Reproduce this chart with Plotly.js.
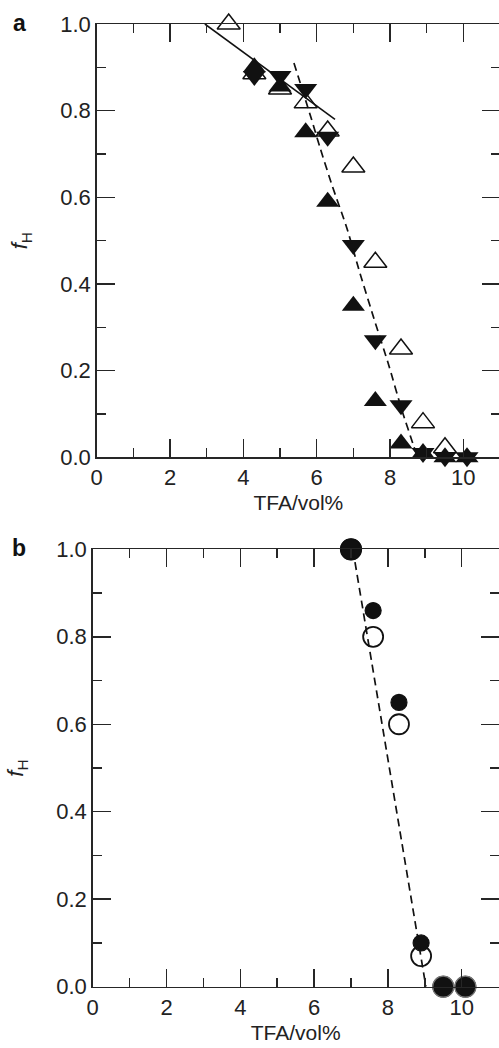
<!DOCTYPE html>
<html><head><meta charset="utf-8">
<script src="https://cdn.plot.ly/plotly-3.0.1.min.js"></script>
<style>html,body{margin:0;padding:0;overflow:hidden;background:#fff}#chart{width:500px;height:1048px}</style>
</head><body><div id="chart"></div>
<script>
// ---- Panel a data ----
const tfaOpenA = [3.6, 4.3, 5.0, 5.7, 6.3, 7.0, 7.6, 8.3, 8.9, 9.5];
const openTriY = [1.0, 0.885, 0.85, 0.818, 0.753, 0.67, 0.45, 0.25, 0.08, 0.022];
const tfaFilledA = [4.3, 5.0, 5.7, 6.3, 7.0, 7.6, 8.3, 8.9, 9.5, 10.1];
const filledUpY = [0.90, 0.856, 0.75, 0.59, 0.35, 0.13, 0.032, 0.01, 0.0, 0.0];
const filledDownY = [0.88, 0.88, 0.85, 0.74, 0.49, 0.27, 0.12, 0.01, 0.0, 0.0];
const solidFitX = [2.95, 6.5];
const solidFitY = [1.0, 0.78];
const dashFitAX = [5.38, 5.86, 6.09, 6.43, 6.82, 7.18, 7.6, 7.95, 8.32, 8.65, 8.75];
const dashFitAY = [0.91, 0.78, 0.715, 0.625, 0.53, 0.425, 0.31, 0.217, 0.11, 0.025, 0.0];
// ---- Panel b data ----
const tfaB = [7.0, 7.6, 8.3, 8.9, 9.5, 10.1];
const filledCircY = [1.0, 0.86, 0.65, 0.10, 0.0, 0.0];
const openCircY = [1.0, 0.80, 0.60, 0.07, 0.0, 0.0];
const dashFitBX = [7.05, 9.03];
const dashFitBY = [1.0, 0.0];
// ---- ticks / labels ----
const xTickVals = [0, 2, 4, 6, 8, 10];
const xTickText = ['0', '2', '4', '6', '8', '10'];
const yTickVals = [0, 0.2, 0.4, 0.6, 0.8, 1.0];
const yTickText = ['0.0', '0.2', '0.4', '0.6', '0.8', '1.0'];
const xTitle = 'TFA/vol%';
const yTitle = '<i>f</i><sub>H</sub>';
const panelLabels = ['a', 'b'];

const FONT = 'Liberation Sans, Arial, Helvetica, sans-serif';
const AX = '#262626';

// filled circles coinciding with an open one are drawn larger
const coincide = tfaB.map((x, i) => Math.abs(filledCircY[i] - openCircY[i]) < 0.005);

const traces = [
  // panel a
  {x: tfaOpenA, y: openTriY, xaxis: 'x', yaxis: 'y', mode: 'markers', type: 'scatter', cliponaxis: false,
   marker: {symbol: 'triangle-up', size: 20, opacity: 1, color: '#fff', line: {color: '#111', width: 1.5}}},
  {x: tfaFilledA, y: filledUpY, xaxis: 'x', yaxis: 'y', mode: 'markers', type: 'scatter', cliponaxis: false,
   marker: {symbol: 'triangle-up', size: 20, opacity: 1, color: '#111', line: {width: 0}}},
  {x: tfaFilledA, y: filledDownY, xaxis: 'x', yaxis: 'y', mode: 'markers', type: 'scatter', cliponaxis: false,
   marker: {symbol: 'triangle-down', size: 20, opacity: 1, color: '#111', line: {width: 0}}},
  {x: solidFitX, y: solidFitY, xaxis: 'x', yaxis: 'y', mode: 'lines', type: 'scatter', cliponaxis: false,
   line: {color: '#111', width: 1.6}},
  {x: dashFitAX, y: dashFitAY, xaxis: 'x', yaxis: 'y', mode: 'lines', type: 'scatter', cliponaxis: false,
   line: {color: '#111', width: 1.7, dash: '8px,5px', shape: 'spline', smoothing: 0.6}},
  // panel b
  {x: tfaB, y: openCircY, xaxis: 'x2', yaxis: 'y2', mode: 'markers', type: 'scatter', cliponaxis: false,
   marker: {symbol: 'circle', size: 20, opacity: 1, color: '#fff', line: {color: '#111', width: 1.8}}},
  {x: tfaB, y: filledCircY, xaxis: 'x2', yaxis: 'y2', mode: 'markers', type: 'scatter', cliponaxis: false,
   marker: {symbol: 'circle', size: coincide.map(c => c ? 21 : 16), sizemode: 'diameter', opacity: 1, color: '#111',
            line: {color: tfaB.map((x, i) => coincide[i] && filledCircY[i] === 0 ? '#777' : '#111'), width: 1.2}}},
  {x: dashFitBX, y: dashFitBY, xaxis: 'x2', yaxis: 'y2', mode: 'lines', type: 'scatter', cliponaxis: false,
   line: {color: '#111', width: 1.7, dash: '8px,5px'}}
];

function xAxis(domain, anchor) {
  return {
    domain: domain, anchor: anchor, range: [0, 11], fixedrange: true,
    tickvals: xTickVals, ticktext: xTickText,
    ticks: 'inside', ticklen: 18, tickwidth: 1.5, tickcolor: AX,
    minor: {dtick: 1, tick0: 0, ticks: 'inside', ticklen: 9, tickwidth: 1.5, tickcolor: AX, showgrid: false},
    showline: true, linecolor: AX, linewidth: 1.5, mirror: 'ticks',
    showgrid: false, zeroline: false,
    tickfont: {family: FONT, size: 22, color: '#222'},
    title: {text: xTitle, font: {family: FONT, size: 21, color: '#222'}, standoff: 6}
  };
}
function yAxis(domain, anchor) {
  return {
    domain: domain, anchor: anchor, range: [0, 1], fixedrange: true,
    tickvals: yTickVals, ticktext: yTickText,
    ticks: 'inside', ticklen: 18, tickwidth: 1.5, tickcolor: AX,
    minor: {dtick: 0.1, tick0: 0, ticks: 'inside', ticklen: 9, tickwidth: 1.5, tickcolor: AX, showgrid: false},
    showline: true, linecolor: AX, linewidth: 1.5, mirror: 'ticks',
    showgrid: false, zeroline: false,
    tickfont: {family: FONT, size: 22, color: '#222'},
    title: {text: yTitle, font: {family: FONT, size: 22, color: '#222'}, standoff: 26}
  };
}

const layout = {
  width: 500, height: 1048,
  margin: {l: 0, r: 0, t: 0, b: 0},
  paper_bgcolor: '#fff', plot_bgcolor: '#fff',
  showlegend: false,
  xaxis: xAxis([96.7 / 500, 1.0], 'y'),
  yaxis: yAxis([590.7 / 1048, 1024 / 1048], 'x'),
  xaxis2: xAxis([92.7 / 500, 498.6 / 500], 'y2'),
  yaxis2: yAxis([61.3 / 1048, 498.7 / 1048], 'x2'),
  annotations: [
    {text: '<b>' + panelLabels[0] + '</b>', xref: 'paper', yref: 'paper', x: 19 / 500, y: 1 - 23 / 1048,
     xanchor: 'center', yanchor: 'middle', showarrow: false, font: {family: FONT, size: 23, color: '#111'}},
    {text: '<b>' + panelLabels[1] + '</b>', xref: 'paper', yref: 'paper', x: 19 / 500, y: 1 - 548 / 1048,
     xanchor: 'center', yanchor: 'middle', showarrow: false, font: {family: FONT, size: 23, color: '#111'}}
  ]
};

Plotly.newPlot('chart', traces, layout, {staticPlot: true, displayModeBar: false});
</script>
</body></html>
